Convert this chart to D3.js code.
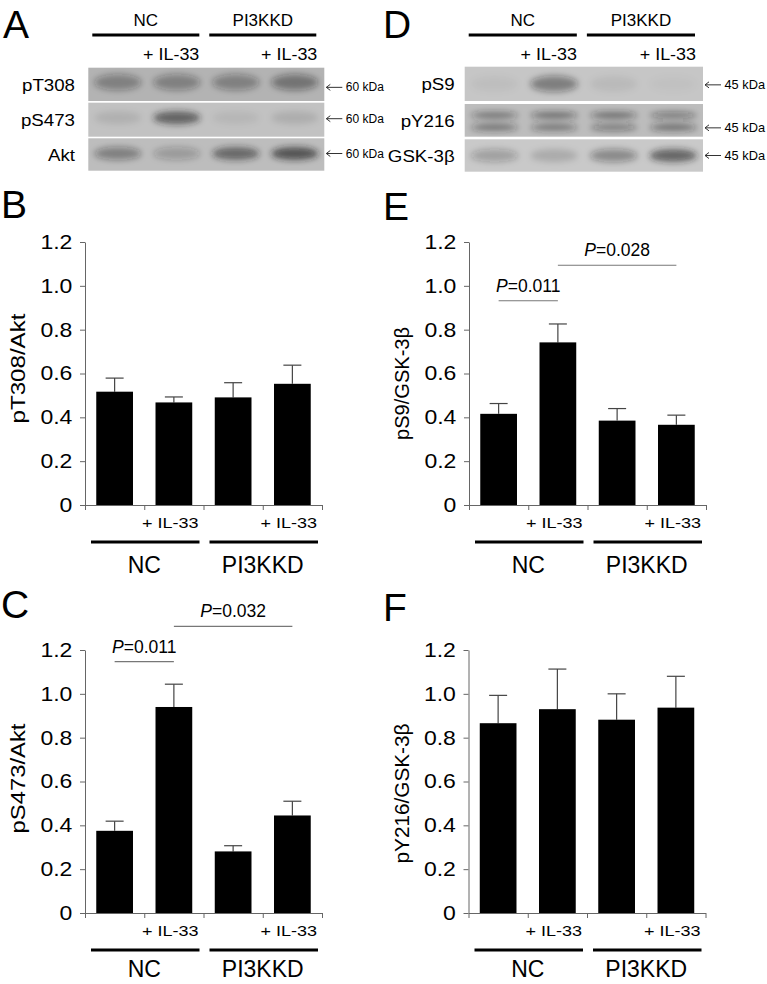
<!DOCTYPE html>
<html><head><meta charset="utf-8">
<script src="https://cdn.jsdelivr.net/npm/d3@7"></script>
<style>
body{margin:0;background:#fff}
svg{display:block;font-family:"Liberation Sans",Arial,Helvetica,sans-serif}
</style>
</head><body>
<svg id="fig" width="767" height="984"></svg>
<script>
// ---------------- data ----------------
const lanes = ["NC", "NC + IL-33", "PI3KKD", "PI3KKD + IL-33"];
const laneTreat = ["", "+ IL-33", "", "+ IL-33"];
const laneGroup = ["NC", "NC", "PI3KKD", "PI3KKD"];
const groups = ["NC", "PI3KKD"];
const yTicks = [0, 0.2, 0.4, 0.6, 0.8, 1.0, 1.2];

const pT308Mean = [0.517, 0.468, 0.491, 0.553];
const pT308SEM  = [0.062, 0.025, 0.067, 0.085];
const pS473Mean = [0.375, 0.940, 0.281, 0.445];
const pS473SEM  = [0.044, 0.104, 0.026, 0.065];
const pS9Mean   = [0.416, 0.742, 0.385, 0.366];
const pS9SEM    = [0.047, 0.084, 0.055, 0.044];
const pY216Mean = [0.866, 0.930, 0.882, 0.937];
const pY216SEM  = [0.127, 0.183, 0.118, 0.143];

const sigPairsC = [[0, 1], [1, 3]];
const sigValuesC = ["0.011", "0.032"];
const sigPairsE = [[0, 1], [1, 3]];
const sigValuesE = ["0.011", "0.028"];

// western blot band intensities (relative darkness per lane)
const blotLabelsA = ["pT308", "pS473", "Akt"];
const bandsPT308 = [0.45, 0.45, 0.45, 0.55];
const bandsPS473 = [0.12, 0.78, 0.08, 0.14];
const bandsAkt   = [0.50, 0.30, 0.72, 0.88];
const kdaA = "60 kDa";
const blotLabelsD = ["pS9", "pY216", "GSK-3β"];
const bandsPS9      = [0.05, 0.55, 0.08, 0.03];
const bandsPY216Up  = [0.60, 0.66, 0.66, 0.55];
const bandsPY216Low = [0.62, 0.60, 0.55, 0.66];
const bandsGSK      = [0.32, 0.20, 0.48, 0.78];
const kdaD = "45 kDa";

// ---------------- drawing ----------------
const svg = d3.select("#fig");
svg.append("rect").attr("width", 767).attr("height", 984).attr("fill", "#fff");
const defs = svg.append("defs");
defs.append("filter").attr("id", "blur")
  .attr("x", "-60%").attr("y", "-150%").attr("width", "220%").attr("height", "400%")
  .append("feGaussianBlur").attr("stdDeviation", 3.2);

function txt(g, s, x, y, o = {}) {
  let tr = `translate(${x},${y})`;
  if (o.rot) tr += ` rotate(${o.rot})`;
  if (o.sx && o.sx !== 1) tr += ` scale(${o.sx},1)`;
  const t = g.append("text").attr("transform", tr)
    .attr("font-size", o.size || 16)
    .attr("text-anchor", o.anchor || "start")
    .attr("fill", o.fill || "#000");
  if (o.len) t.attr("textLength", o.len).attr("lengthAdjust", "spacingAndGlyphs");
  t.text(s);
  return t;
}

function panelLetter(s, x, y) {
  txt(svg, s, x, y, {size: 39});
}

function barPanel(L, mean, sem, yLabel, sigPairs, sigValues) {
  const g = svg.append("g");
  const x = d3.scaleBand().domain(lanes).range([L.x0, L.x1]);
  const xe = d3.scaleLinear().domain([0, lanes.length]).range([L.x0, L.x1]);
  const y = d3.scaleLinear().domain([0, 1.2]).range([L.yBot, L.yTop]);
  const bw = x.bandwidth() * 0.62;
  const cx = d => x(d) + x.bandwidth() / 2;

  // error bars (upper)
  const eg = g.append("g").attr("stroke", "#444").attr("stroke-width", 1.2);
  lanes.forEach((d, i) => {
    eg.append("line").attr("x1", cx(d)).attr("x2", cx(d))
      .attr("y1", y(mean[i])).attr("y2", y(mean[i] + sem[i]));
    eg.append("line").attr("x1", cx(d) - 9).attr("x2", cx(d) + 9)
      .attr("y1", y(mean[i] + sem[i])).attr("y2", y(mean[i] + sem[i]));
  });
  // bars
  g.selectAll("rect.bar").data(lanes).join("rect").attr("class", "bar")
    .attr("x", d => x(d) + (x.bandwidth() - bw) / 2)
    .attr("y", (d, i) => y(mean[i]))
    .attr("width", bw)
    .attr("height", (d, i) => y(0) - y(mean[i]))
    .attr("fill", "#000");

  // y axis
  const ya = g.append("g").attr("transform", `translate(${L.x0},0)`)
    .call(d3.axisLeft(y).tickValues(yTicks)
      .tickFormat(d => d === 0 ? "0" : d3.format(".1f")(d))
      .tickSize(5).tickPadding(6).tickSizeOuter(0));
  ya.attr("font-family", null).attr("font-size", null);
  ya.select(".domain").attr("stroke", "#666");
  ya.selectAll(".tick line").attr("stroke", "#666");
  ya.selectAll(".tick text").attr("font-size", 20).attr("fill", "#000")
    .attr("transform", "scale(1.15,1)");

  // x axis (ticks at lane boundaries)
  const xa = g.append("g").attr("transform", `translate(0,${L.yBot})`)
    .call(d3.axisBottom(xe).tickValues(d3.range(lanes.length + 1))
      .tickFormat("").tickSize(5).tickSizeOuter(0));
  xa.select(".domain").attr("stroke", "#666");
  xa.selectAll(".tick line").attr("stroke", "#666");

  // treatment labels
  lanes.forEach((d, i) => {
    if (laneTreat[i]) txt(g, laneTreat[i], x(d) + x.bandwidth() - 5, L.yBot + 23,
      {size: 15, anchor: "end", sx: 1.2});
  });
  // group underline + labels
  groups.forEach(gr => {
    const ls = lanes.filter((d, i) => laneGroup[i] === gr);
    const a = x(ls[0]), b = x(ls[ls.length - 1]) + x.bandwidth();
    g.append("line").attr("x1", a + 6).attr("x2", b - 4)
      .attr("y1", L.yBot + L.lineDy).attr("y2", L.yBot + L.lineDy)
      .attr("stroke", "#000").attr("stroke-width", 3);
    txt(g, gr, (a + b) / 2, L.yBot + L.grpDy, {size: 23, anchor: "middle"});
  });

  // y label
  txt(g, yLabel, L.x0 - 60, (L.yTop + L.yBot) / 2 + L.labDy,
    {rot: -90, anchor: "middle", size: 20, len: L.labLen});

  // significance brackets
  sigPairs.forEach((pr, k) => {
    const yy = y(L.sigLevels[k]);
    const xa1 = cx(lanes[pr[0]]), xb1 = cx(lanes[pr[1]]);
    g.append("line").attr("x1", xa1).attr("x2", xb1).attr("y1", yy).attr("y2", yy)
      .attr("stroke", "#777").attr("stroke-width", 1.2);
    const t = g.append("text").attr("x", (xa1 + xb1) / 2).attr("y", yy - 9)
      .attr("text-anchor", "middle").attr("font-size", 17.5);
    t.append("tspan").attr("font-style", "italic").text("P");
    t.append("tspan").text("=" + sigValues[k]);
  });
}

function blotPanel(B, rows, labels, kda) {
  const g = svg.append("g");
  const xl = d3.scaleBand().domain(lanes).range([B.x0, B.x1]);
  const xg = d3.scaleBand().domain(groups).range([B.x0 + 4, B.x1 - 8]).paddingInner(0.085);
  groups.forEach(gr => {
    g.append("line").attr("x1", xg(gr)).attr("x2", xg(gr) + xg.bandwidth())
      .attr("y1", 35).attr("y2", 35).attr("stroke", "#000").attr("stroke-width", 3);
    txt(g, gr, xg(gr) + xg.bandwidth() / 2, 25.5, {size: 17, anchor: "middle"});
  });
  lanes.forEach((d, i) => {
    if (laneTreat[i]) txt(g, laneTreat[i], xl(d) + xl.bandwidth() - 7, 60,
      {size: 16, anchor: "end", sx: 1.12});
  });
  rows.forEach((r, k) => {
    const [y0, y1] = B.rowY[k];
    const cy = (y0 + y1) / 2;
    g.append("rect").attr("x", B.x0).attr("y", y0).attr("width", B.x1 - B.x0)
      .attr("height", y1 - y0).attr("fill", r.bg);
    const bg = g.append("g").attr("filter", "url(#blur)");
    r.bands.forEach(band => {
      lanes.forEach((d, i) => {
        bg.append("ellipse").attr("cx", xl(d) + xl.bandwidth() / 2)
          .attr("cy", cy + band.dy).attr("rx", xl.bandwidth() * 0.4).attr("ry", band.ry)
          .attr("fill", "#1e1e1e").attr("fill-opacity", band.vals[i] * 0.75);
      });
    });
    txt(g, labels[k], B.labelX, cy + 6.5, {size: 17, anchor: "end", sx: 1.1});
    const ay = cy + r.arrowDy;
    const tip = B.x1 + 2, tail = tip + 16;
    g.append("path").attr("d", `M${tail},${ay}H${tip}M${tip + 4},${ay - 3}L${tip},${ay}L${tip + 4},${ay + 3}`)
      .attr("fill", "none").attr("stroke", "#333").attr("stroke-width", 1);
    txt(g, kda, tail + 3.5, ay + 4, {size: B.kdaSize});
  });
}

// ---------- layout ----------
panelLetter("A", 3, 38);
panelLetter("D", 383, 38);
panelLetter("B", 1, 218);
panelLetter("E", 383, 220);
panelLetter("C", 1, 618);
panelLetter("F", 383, 621);

blotPanel({x0: 88.3, x1: 324.3, labelX: 75, kdaSize: 12,
  rowY: [[67.7, 101], [102.7, 136.7], [138.3, 170.7]]},
  [
    {bg: "#b3b3b3", arrowDy: 3, bands: [{dy: -2, ry: 8, vals: bandsPT308}]},
    {bg: "#c2c2c2", arrowDy: -1, bands: [{dy: -2, ry: 6.5, vals: bandsPS473}]},
    {bg: "#bdbdbd", arrowDy: -1, bands: [{dy: -1, ry: 6.5, vals: bandsAkt}]}
  ], blotLabelsA, kdaA);

blotPanel({x0: 464.7, x1: 703, labelX: 454.7, kdaSize: 12.8,
  rowY: [[66.7, 101], [104, 136.7], [139.3, 171.7]]},
  [
    {bg: "#c6c6c6", arrowDy: 1, bands: [{dy: 0, ry: 8, vals: bandsPS9}]},
    {bg: "#bdbdbd", arrowDy: 7.5, bands: [{dy: -5, ry: 3.5, vals: bandsPY216Up}, {dy: 7, ry: 3.5, vals: bandsPY216Low}]},
    {bg: "#c9c9c9", arrowDy: 0, bands: [{dy: 0, ry: 6.5, vals: bandsGSK}]}
  ], blotLabelsD, kdaD);

barPanel({x0: 85, x1: 322, yTop: 242, yBot: 505, labDy: -5, labLen: 110, lineDy: 37, grpDy: 68},
  pT308Mean, pT308SEM, "pT308/Akt", [], []);
barPanel({x0: 469, x1: 706, yTop: 242, yBot: 505, labDy: 10, labLen: 113, lineDy: 37, grpDy: 68, sigLevels: [0.932, 1.094]},
  pS9Mean, pS9SEM, "pS9/GSK-3β", sigPairsE, sigValuesE);
barPanel({x0: 85, x1: 322, yTop: 650, yBot: 913, labDy: -3, labLen: 110, lineDy: 37, grpDy: 64, sigLevels: [1.147, 1.308]},
  pS473Mean, pS473SEM, "pS473/Akt", sigPairsC, sigValuesC);
barPanel({x0: 468.5, x1: 705.5, yTop: 650, yBot: 913, labDy: 12, labLen: 140, lineDy: 37, grpDy: 64},
  pY216Mean, pY216SEM, "pY216/GSK-3β", [], []);
</script>
</body></html>
